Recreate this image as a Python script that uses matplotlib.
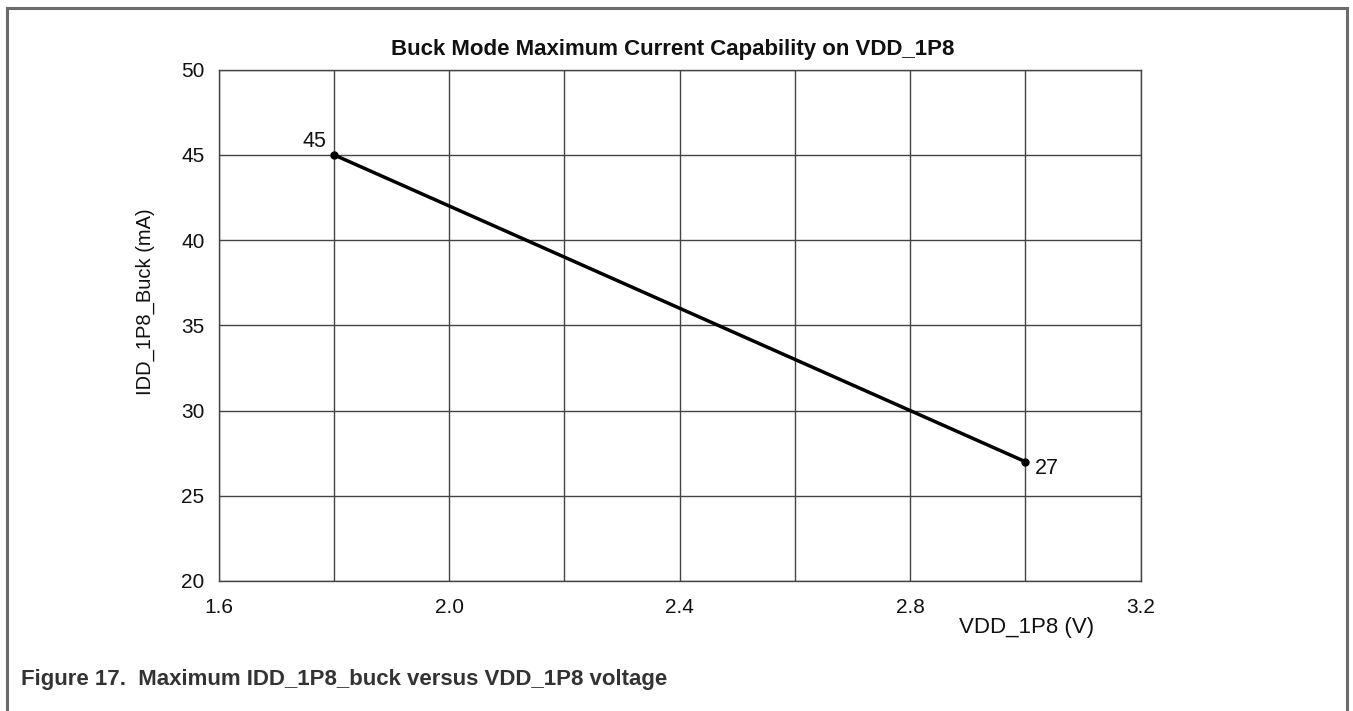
import matplotlib
matplotlib.use("Agg")
import matplotlib.pyplot as plt
from matplotlib.lines import Line2D

plt.rcParams['font.family'] = ['Liberation Sans', 'DejaVu Sans']

# Data
vdd = [1.8, 3.0]
idd = [45, 27]
point_labels = ["45", "27"]
x_major = [1.6, 2.0, 2.4, 2.8, 3.2]
x_minor = [1.6, 1.8, 2.0, 2.2, 2.4, 2.6, 2.8, 3.0, 3.2]
y_ticks = [20, 25, 30, 35, 40, 45, 50]

title = "Buck Mode Maximum Current Capability on VDD_1P8"
xlabel = "VDD_1P8 (V)"
ylabel = "IDD_1P8_Buck (mA)"
caption = "Figure 17.  Maximum IDD_1P8_buck versus VDD_1P8 voltage"

W, H = 1353, 711
fig = plt.figure(figsize=(W / 100, H / 100), dpi=100)

# outer frame (left, top, right)
fc = "#6b6b6b"
fig.add_artist(Line2D([7 / W, 7 / W], [0, 1 - 8 / H], color=fc, lw=2.2, transform=fig.transFigure))
fig.add_artist(Line2D([7 / W, 1347 / W], [1 - 8 / H, 1 - 8 / H], color=fc, lw=2.2, transform=fig.transFigure))
fig.add_artist(Line2D([1347 / W, 1347 / W], [0, 1 - 8 / H], color=fc, lw=2.2, transform=fig.transFigure))

left, right = 218.5 / W, 1140.5 / W
top, bottom = 1 - 69.5 / H, 1 - 581 / H
ax = fig.add_axes([left, bottom, right - left, top - bottom])

ax.set_xlim(1.6, 3.2)
ax.set_ylim(20, 50)
ax.set_xticks(x_major)
ax.set_xticks(x_minor, minor=True)
ax.set_xticklabels([f"{v:.1f}" for v in x_major])
ax.set_yticks(y_ticks)
ax.tick_params(axis='both', which='both', length=0, labelsize=15, colors='#111111')
ax.tick_params(axis='x', pad=12)
ax.tick_params(axis='y', pad=10)
gc = "#444444"
ax.grid(True, which='both', color=gc, lw=1.0)
ax.set_axisbelow(True)
for s in ax.spines.values():
    s.set_color(gc)
    s.set_linewidth(1.0)

ax.plot(vdd, idd, color='black', lw=2.5, marker='o', markersize=5, zorder=5)
ax.annotate(point_labels[0], (vdd[0], idd[0]), xytext=(-5, 2), textcoords='offset points',
            ha='right', va='bottom', fontsize=15.5, color='#111111')
ax.annotate(point_labels[1], (vdd[1], idd[1]), xytext=(7, -5), textcoords='offset points',
            ha='left', va='center', fontsize=15.5, color='#111111')

fig.text(673 / W, 1 - 50 / H, title, ha='center', va='center', fontsize=16, fontweight='bold', color='#111111')
fig.text(1027 / W, 1 - 627 / H, xlabel, ha='center', va='center', fontsize=16, color='#111111')
fig.text(145 / W, 1 - 302 / H, ylabel, ha='center', va='center', rotation=90, fontsize=14.5, color='#111111')
fig.text(21 / W, 1 - 680 / H, caption, ha='left', va='center', fontsize=16, fontweight='bold', color='#333333')

fig.savefig("out.png", dpi=100)
